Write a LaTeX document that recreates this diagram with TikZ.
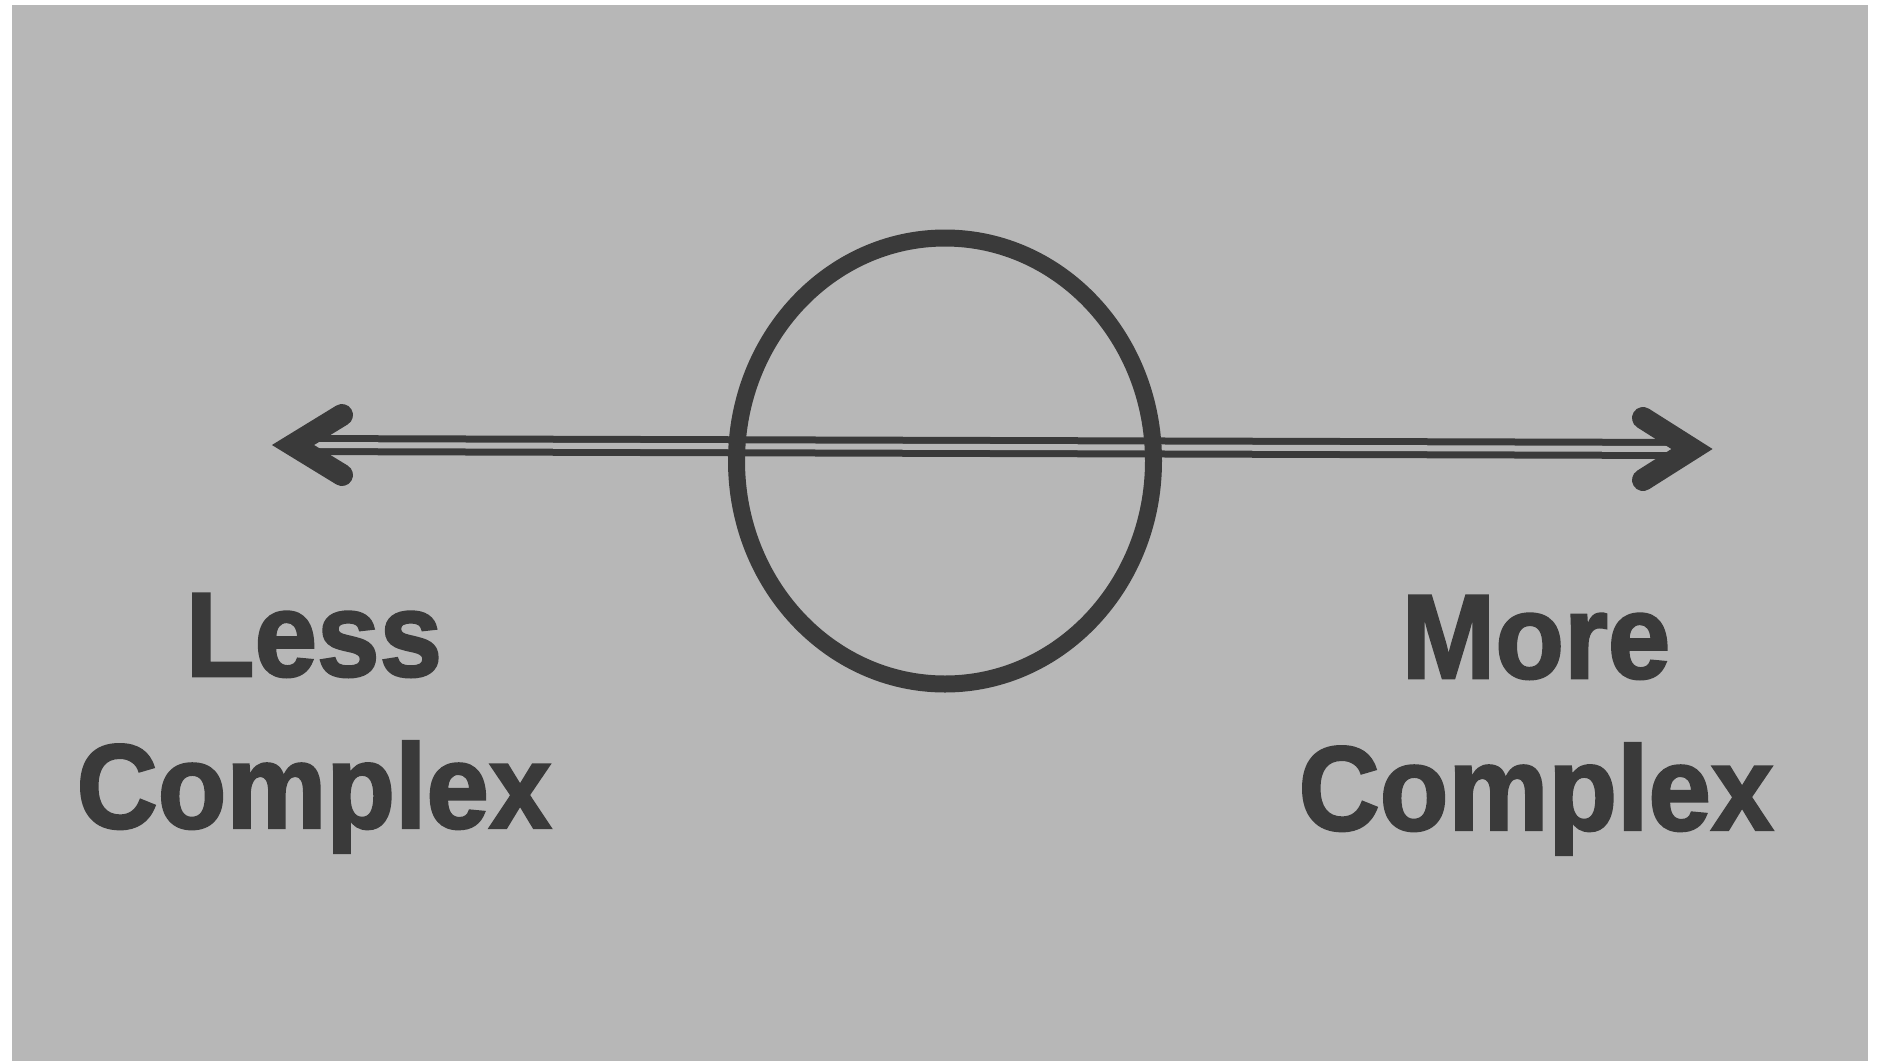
\documentclass[tikz,border=0pt]{standalone}
\usepackage{fontspec}
\setmainfont{Liberation Sans}
\newfontfamily\labelfont[BoldFeatures={FakeBold=2}]{Liberation Sans}
\usepackage{xcolor}
\usetikzlibrary{calc,shapes.geometric}
\definecolor{scangray}{RGB}{183,183,183}
\definecolor{inkdark}{RGB}{58,58,58}

\begin{document}
\begin{tikzpicture}[
  axisline/.style={draw=inkdark, line width=0.07cm, double=scangray,
                   double distance=0.06cm},
  chevron/.style={draw=inkdark, line width=0.22cm, line cap=round,
                  line join=miter},
  ring/.style={draw=inkdark, line width=0.17cm, ellipse, inner sep=0pt},
  label/.style={font=\labelfont\fontsize{32}{40.5}\selectfont\bfseries,
                text=inkdark, align=center, inner sep=0pt, yscale=1.067}
]
\useasboundingbox (0,0) rectangle (18.79,10.61);
\fill[scangray] (0.12,0) rectangle (18.68,10.56);

% ends of the scale
\coordinate (lefttip) at (2.93,6.16);
\coordinate (righttip) at (16.92,6.12);

% double line
\draw[axisline] (lefttip) -- (righttip);

% arrow heads
\draw[chevron] ($(lefttip)+(0.49,0.30)$) -- (lefttip) -- ($(lefttip)+(0.49,-0.30)$);
\draw[chevron] ($(righttip)+(-0.49,0.31)$) -- (righttip) -- ($(righttip)+(-0.49,-0.31)$);

% middle
\node[ring, minimum width=4.17cm, minimum height=4.46cm] (middle) at (9.45,6.00) {};

% labels
\node[label, anchor=base] (less) at (3.14,2.33) {Less\\Complex};
\node[label, anchor=base] (more) at (15.36,2.31) {More\\Complex};

\end{tikzpicture}
\end{document}
